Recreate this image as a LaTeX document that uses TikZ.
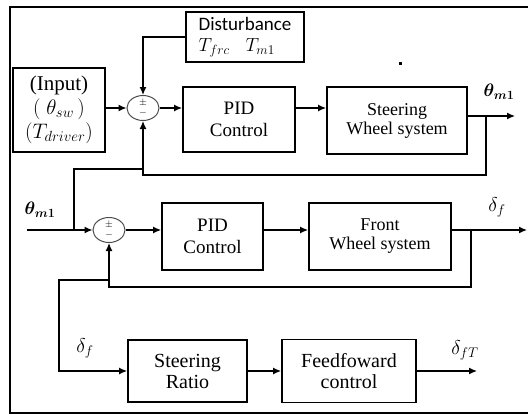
\RequirePackage{fix-cm}
\documentclass[tikz,border=0pt]{standalone}
\usepackage{fontspec}
\usepackage{amsmath}
\setmainfont{Liberation Serif}
\newfontfamily\distfont{Carlito}
\usetikzlibrary{positioning,arrows.meta,shapes.geometric,calc}

\begin{document}
\begin{tikzpicture}[x=1pt,y=-1pt,
box/.style={rectangle,draw,line width=1.8pt,align=center,inner sep=0pt,font=\fontsize{18}{19}\selectfont},
bigbox/.style={box,font=\fontsize{20}{21}\selectfont},
sumnode/.style={ellipse,draw=black!70,line width=1pt,minimum width=32pt,minimum height=25pt,inner sep=0pt,align=center,font=\fontsize{10}{9.5}\selectfont},
arrow/.style={-{Latex[length=8pt,width=7pt]},line width=1.3pt},
conn/.style={line width=1.3pt},
lbl/.style={font=\fontsize{20}{20}\selectfont},
thlbl/.style={font=\fontsize{18}{18}\selectfont\boldmath}
]
\useasboundingbox (0,0) rectangle (528,415);
\draw[line width=1.6pt] (528,7) -- (10,7) -- (10,413) -- (528,413);
\fill (398.5,61.5) rectangle (401.5,64.5);

% upper loop
\node[box,minimum width=92pt,minimum height=84pt,font=\fontsize{21}{24}\selectfont] (in) at (59,110) {(Input)\\$(\;\theta_{sw}\,)$\\$(T_{driver})$};
\node[sumnode] (s1) at (143,108) {$\pm$\\$-$};
\node[box,minimum width=118pt,minimum height=50pt,align=left,font=\distfont\fontsize{19}{21}\selectfont] (dist) at (245,37) {Disturbance\\$T_{frc}\;\;\;T_{m1}$};
\node[box,minimum width=112pt,minimum height=65pt,font=\fontsize{19}{22}\selectfont] (pid1) at (239,119.5) {PID\\Control};
\node[box,minimum width=140pt,minimum height=67pt] (steer) at (397,120.5) {Steering\\Wheel system};
\coordinate (b1) at (486,116);
\coordinate (o1) at (515,116);
\coordinate (fb1) at (143,175);
\coordinate (tp1) at (143,169);
\node[thlbl] (lth1) at (499,92) {$\theta_{m1}$};

\draw[arrow] (in.east |- s1) -- (s1.west);
\draw[arrow] (dist.west) -| (s1.north);
\draw[arrow] (s1.east) -- (pid1.west |- s1);
\draw[arrow] (pid1.east |- s1) -- (steer.west |- s1);
\draw[arrow] (steer.east |- o1) -- (o1);
\draw[arrow] (b1) |- (fb1) -- (s1.south);

% lower loop
\node[sumnode] (s2) at (109,230) {$\pm$\\$-$};
\node[box,minimum width=101pt,minimum height=67pt,font=\fontsize{19}{22}\selectfont] (pid2) at (212.5,236.5) {PID\\Control};
\node[box,minimum width=142pt,minimum height=67pt] (front) at (380,236.5) {Front\\Wheel system};
\coordinate (th) at (27,230);
\coordinate (b2) at (471,230);
\coordinate (o2) at (527,230);
\coordinate (fb2) at (109,287);
\coordinate (tp2) at (109,280);
\node[thlbl] (lth2) at (40,210) {$\theta_{m1}$};
\node[lbl] (ldf) at (497,207) {$\delta_f$};

\draw[conn] (tp1) -| (74,230);
\draw[arrow] (th) -- (s2.west);
\draw[arrow] (s2.east) -- (pid2.west |- s2);
\draw[arrow] (pid2.east |- s2) -- (front.west |- s2);
\draw[arrow] (front.east |- s2) -- (o2);
\draw[arrow] (b2) |- (fb2) -- (s2.south);

% feedforward
\node[bigbox,minimum width=119pt,minimum height=62pt] (sr) at (187.5,371) {Steering\\Ratio};
\node[bigbox,minimum width=134pt,minimum height=63pt] (ff) at (349,371) {Feedfoward\\control};
\coordinate (o3) at (477,371);
\node[lbl] (ldf2) at (85,348) {$\delta_f$};
\node[lbl] (ldft) at (465,350) {$\delta_{fT}$};

\draw[arrow] (tp2) -| (59,371) -- (sr.west);
\draw[arrow] (sr.east) -- (ff.west |- sr);
\draw[arrow] (ff.east |- sr) -- (o3);
\end{tikzpicture}
\end{document}
